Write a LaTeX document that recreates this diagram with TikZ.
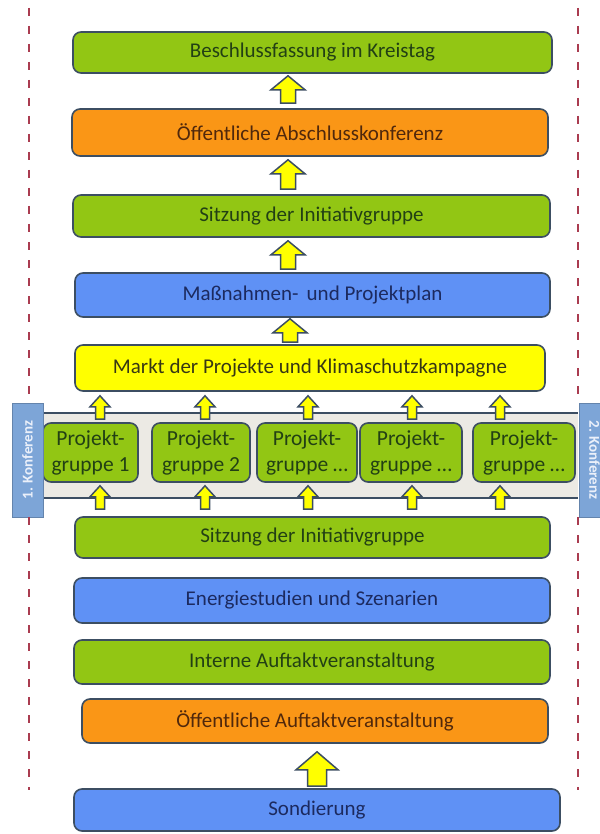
\documentclass[tikz,border=0pt]{standalone}
\usepackage{fontspec}
\setmainfont{Carlito}
\usetikzlibrary{calc}
\definecolor{cgreen}{RGB}{146,198,20}
\definecolor{corange}{RGB}{250,150,22}
\definecolor{cblue}{RGB}{95,145,245}
\definecolor{cyellow}{RGB}{255,255,0}
\definecolor{cborder}{RGB}{60,78,98}
\definecolor{tgreen}{RGB}{34,64,20}
\definecolor{torange}{RGB}{80,40,12}
\definecolor{tblue}{RGB}{28,42,95}
\definecolor{tyellow}{RGB}{55,55,20}
\definecolor{cband}{RGB}{236,234,228}
\definecolor{clabel}{RGB}{125,165,215}
\definecolor{clabeltext}{RGB}{235,240,250}
\definecolor{cdash}{RGB}{170,60,80}
\newcommand\barrow[6]{%
  \draw[arrowst] let \p1=(#2), \p2=(#3) in
   (#1pt-#5pt,\y1) -- (#1pt-#5pt,\y2-#6pt) -- (#1pt-#4pt,\y2-#6pt) -- (#1pt,\y2)
   -- (#1pt+#4pt,\y2-#6pt) -- (#1pt+#5pt,\y2-#6pt) -- (#1pt+#5pt,\y1) -- cycle;}
\begin{document}
\begin{tikzpicture}[x=1pt,y=-1pt,
  box/.style={draw=cborder, line width=1.6pt, rounded corners=8pt, inner sep=0pt,
    font=\fontsize{21}{24}\selectfont},
  gbox/.style={box, fill=cgreen, text=tgreen},
  obox/.style={box, fill=corange, text=torange},
  bbox/.style={box, fill=cblue, text=tblue},
  ybox/.style={box, fill=cyellow, text=tyellow},
  pgbox/.style={gbox, minimum height=59pt, align=center,
    font=\fontsize{21.5}{26}\selectfont},
  lab/.style={draw=clabel!80!black, line width=0.8pt, fill=clabel, text=clabeltext,
    minimum width=114pt, minimum height=31pt, inner sep=0pt,
    font=\bfseries\fontsize{15}{17}\selectfont},
  arrowst/.style={draw=cborder, fill=cyellow, line width=1.5pt, line join=miter},
  dashl/.style={draw=cdash, line width=2pt, dash pattern=on 8pt off 10pt},
  bandline/.style={draw=cborder, line width=2pt}
]
\useasboundingbox (0,0) rectangle (599,834);
\fill[white] (0,0) rectangle (599,834);

% dashed side lines
\coordinate (lt) at (29,8);
\coordinate (lb) at (29,790);
\coordinate (rt) at (578,8);
\coordinate (rb) at (578,790);

% band
\node[fill=cband, minimum width=535pt, minimum height=85pt, inner sep=0pt] (band) at (310.5,455.5) {};
\draw[bandline] (band.north west) -- (band.north east);
\draw[bandline] (band.south west) -- (band.south east);

% main boxes
\node[gbox, minimum width=479pt, minimum height=41pt] (b1) at (312.5,52.5) {Beschlussfassung im Kreistag};
\node[obox, minimum width=476pt, minimum height=47pt] (b2) at (310,132.5) {Öffentliche Abschlusskonferenz};
\node[gbox, minimum width=477pt, minimum height=42pt] (b3) at (311.5,216) {Sitzung der Initiativgruppe};
\node[bbox, minimum width=475pt, minimum height=44pt] (b4) at (312.5,295) {Maßnahmen-\, und Projektplan};
\node[ybox, minimum width=470pt, minimum height=46pt] (b5) at (310,368) {Markt der Projekte und Klimaschutzkampagne};

% project groups
\node[pgbox, minimum width=95pt] (p1) at (90.5,452.5) {Projekt-\\gruppe 1};
\node[pgbox, minimum width=98pt] (p2) at (201,452.5) {Projekt-\\gruppe 2};
\node[pgbox, minimum width=100pt] (p3) at (307,452.5) {Projekt-\\gruppe \dots};
\node[pgbox, minimum width=102pt] (p4) at (411,452.5) {Projekt-\\gruppe \dots};
\node[pgbox, minimum width=102pt] (p5) at (524,452.5) {Projekt-\\gruppe \dots};

\node[gbox, minimum width=475pt, minimum height=41pt] (b6) at (312.5,537.5) {Sitzung der Initiativgruppe};
\node[bbox, minimum width=476pt, minimum height=45pt] (b7) at (312,600.5) {Energiestudien und Szenarien};
\node[gbox, minimum width=476pt, minimum height=44pt] (b8) at (312,662) {Interne Auftaktveranstaltung};
\node[obox, minimum width=466pt, minimum height=44pt] (b9) at (315,721) {Öffentliche Auftaktveranstaltung};
\node[bbox, minimum width=486pt, minimum height=42pt] (b10) at (317,810) {Sondierung};

% labels
\node[lab, rotate=90] (k1) at (27.5,460) {1. Konferenz};
\node[lab, rotate=-90] (k2) at (594.5,460) {2. Konferenz};

\draw[dashl] (lt) -- (lt |- k1.east);
\draw[dashl] (lt |- k1.west) -- (lb);
\draw[dashl] (rt) -- (rt |- k2.west);
\draw[dashl] (rt |- k2.east) -- (rb);

% arrows
\barrow{288}{$(b2.north)+(0,-5)$}{$(b1.south)+(0,2)$}{17}{7.5}{14}
\barrow{288}{$(b3.north)+(0,-5)$}{$(b2.south)+(0,3)$}{17}{7.5}{14}
\barrow{288}{$(b4.north)+(0,-3)$}{$(b3.south)+(0,3)$}{17}{7.5}{14}
\barrow{290}{$(b5.north)+(0,-2)$}{$(b4.south)+(0,1)$}{17}{7.5}{14}
\foreach \ax/\pn in {100/p1,205/p2,308/p3,412/p4,500/p5}{
  \barrow{\ax}{$(\pn.north)+(0,-3)$}{$(b5.south)+(0,4)$}{10}{4.5}{11}
  \barrow{\ax}{$(b6.north)+(0,-7)$}{$(\pn.south)+(0,3)$}{10}{4.5}{11}
}
\barrow{317}{$(b10.north)+(0,-2)$}{$(b9.south)+(0,8)$}{21}{9.5}{18}
\end{tikzpicture}
\end{document}
